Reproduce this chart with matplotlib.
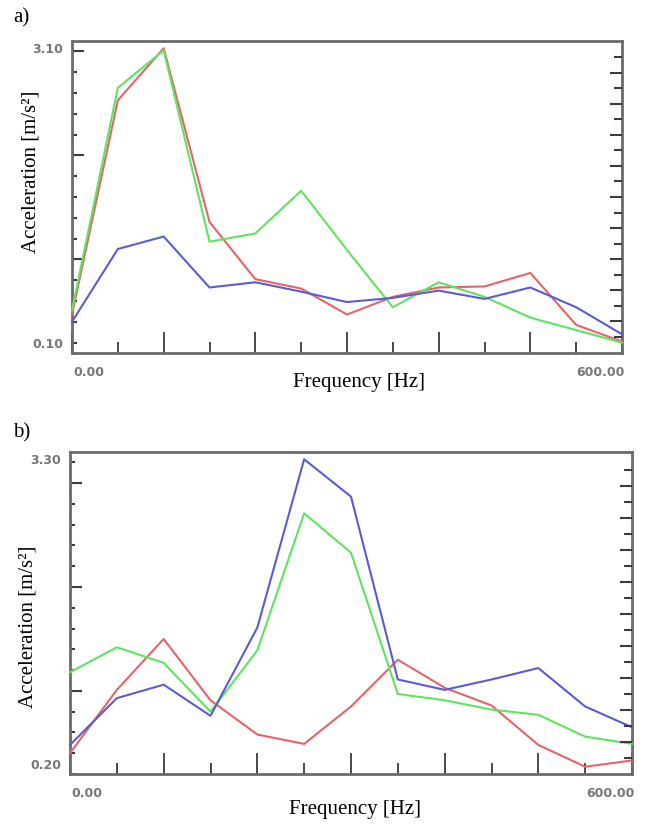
import matplotlib
matplotlib.use("Agg")
import matplotlib.pyplot as plt
import matplotlib.ticker as ticker
import numpy as np

# frequency axis, Hz
freq = [0, 50, 100, 150, 200, 250, 300, 350, 400, 450, 500, 550, 600]

# panel a), acceleration m/s^2
a_red = [0.47, 2.53, 3.03, 1.36, 0.81, 0.72, 0.47, 0.64, 0.73, 0.74, 0.87, 0.37, 0.21]
a_green = [0.51, 2.65, 3.01, 1.17, 1.25, 1.66, 1.09, 0.54, 0.78, 0.64, 0.44, 0.32, 0.20]
a_blue = [0.40, 1.10, 1.22, 0.73, 0.78, 0.69, 0.59, 0.63, 0.70, 0.62, 0.73, 0.54, 0.28]

# panel b)
b_red = [0.40, 1.01, 1.50, 0.91, 0.58, 0.49, 0.85, 1.30, 1.03, 0.86, 0.48, 0.27, 0.33]
b_green = [1.18, 1.42, 1.27, 0.80, 1.39, 2.71, 2.33, 0.97, 0.91, 0.82, 0.77, 0.56, 0.49]
b_blue = [0.48, 0.93, 1.06, 0.76, 1.61, 3.23, 2.87, 1.11, 1.01, 1.11, 1.22, 0.85, 0.65]

COLORS = {"red": "#e56468", "green": "#5ee45e", "blue": "#5b5bd4"}
SERIF = ["Liberation Serif", "DejaVu Serif"]
SPINE = "#6a6a6a"
TICK = "#3c3c3c"
NUM = "#777777"


def style_panel(ax, ylo, yhi, right_ticks, xlab_pos, ylab_pos):
    ax.set_xlim(0, 600)
    ax.set_ylim(ylo, yhi)
    for s in ax.spines.values():
        s.set_color(SPINE)
        s.set_linewidth(2.0)

    ax.xaxis.set_major_locator(ticker.MultipleLocator(100))
    ax.xaxis.set_minor_locator(ticker.MultipleLocator(50))
    ax.yaxis.set_major_locator(ticker.FixedLocator([1, 2, 3]))
    ax.yaxis.set_minor_locator(ticker.MultipleLocator(0.2))
    ax.tick_params(axis="x", which="major", direction="in", length=15, width=1.3,
                   color=TICK, top=False, labelbottom=False)
    ax.tick_params(axis="x", which="minor", direction="in", length=8, width=1.3,
                   color=TICK, top=False)
    ax.tick_params(axis="y", which="major", direction="in", length=8.5, width=1.5,
                   color=TICK, right=False, labelleft=False)
    ax.tick_params(axis="y", which="minor", direction="in", length=3.5, width=1.5,
                   color=TICK, right=False)

    # right-hand scale ticks, alternating long / short
    rx = ax.twinx()
    rx.set_ylim(ylo, yhi)
    rx.yaxis.set_major_locator(ticker.FixedLocator(right_ticks[1::2]))
    rx.yaxis.set_minor_locator(ticker.FixedLocator(right_ticks[0::2]))
    rx.tick_params(axis="y", which="major", direction="in", length=8.5, width=1.5,
                   color=TICK, labelright=False)
    rx.tick_params(axis="y", which="minor", direction="in", length=6, width=1.5,
                   color=TICK)
    for s in rx.spines.values():
        s.set_visible(False)

    # end labels of both scales
    ax.annotate(f"{yhi:.2f}", xy=(0, yhi), xycoords=("axes fraction", "data"),
                xytext=(-9, -2), textcoords="offset pixels", ha="right", va="top",
                fontsize=9, fontweight="bold", color=NUM)
    ax.annotate(f"{ylo:.2f}", xy=(0, ylo), xycoords=("axes fraction", "data"),
                xytext=(-9, 2), textcoords="offset pixels", ha="right", va="bottom",
                fontsize=9, fontweight="bold", color=NUM)
    ax.annotate("0.00", xy=(0, 0), xycoords=("data", "axes fraction"),
                xytext=(1, -13), textcoords="offset pixels", ha="left", va="top",
                fontsize=9, fontweight="bold", color=NUM)
    ax.annotate("600.00", xy=(600, 0), xycoords=("data", "axes fraction"),
                xytext=(3, -13), textcoords="offset pixels", ha="right", va="top",
                fontsize=9, fontweight="bold", color=NUM)

    ax.set_xlabel("Frequency [Hz]", family=SERIF, fontsize=15)
    ax.set_ylabel("Acceleration [m/s²]", family=SERIF, fontsize=15)
    ax.xaxis.set_label_coords(*xlab_pos)
    ax.yaxis.set_label_coords(*ylab_pos)
    ax.xaxis.label.set_va("center")
    ax.yaxis.label.set_va("center")


fig = plt.figure(figsize=(6.47, 8.25), dpi=100)
ax_a = fig.add_axes([72 / 647, 1 - 353 / 825, 550 / 647, 312 / 825])
ax_b = fig.add_axes([70 / 647, 1 - 774 / 825, 562 / 647, 322 / 825])

for ax, series in ((ax_a, (a_red, a_green, a_blue)), (ax_b, (b_red, b_green, b_blue))):
    for vals, key in zip(series, ("red", "green", "blue")):
        ax.plot(freq, vals, color=COLORS[key], linewidth=1.5, clip_on=False, zorder=3)

style_panel(ax_a, 0.10, 3.10, list(np.linspace(2.946, 0.254, 19)),
            (0.522, -0.093), (-0.0745, 0.58))
style_panel(ax_b, 0.20, 3.30, list(np.linspace(3.126, 0.354, 19)),
            (0.507, -0.109), (-0.075, 0.457))

fig.text(13 / 647, 1 - 18 / 825, "a)", family=SERIF, fontsize=15, va="center")
fig.text(13 / 647, 1 - 433 / 825, "b)", family=SERIF, fontsize=15, va="center")

fig.savefig("out.png", dpi=100)
plt.close(fig)
